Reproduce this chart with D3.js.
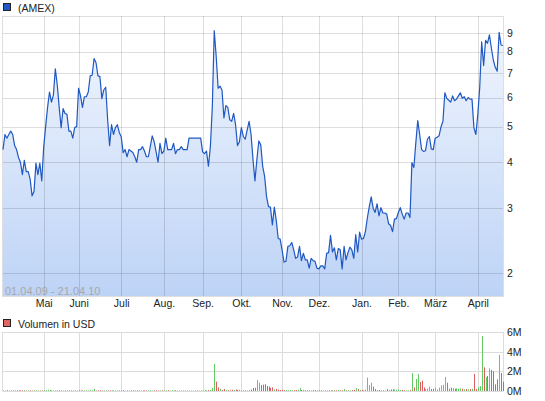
<!DOCTYPE html>
<html><head><meta charset="utf-8">
<script src="https://cdn.jsdelivr.net/npm/d3@7/dist/d3.min.js"></script>
<style>
html,body{margin:0;padding:0;background:#fff;}
svg{display:block;font-family:"Liberation Sans",Arial,sans-serif;}
</style></head>
<body>
<svg id="c" width="545" height="401"></svg>
<script>
// ---- data ----
const seriesName = "(AMEX)";
const volumeName = "Volumen in USD";
const dateRange = "01.04.09 - 21.04.10";
const prices = [
4.33,4.76,4.65,4.76,4.86,4.76,4.44,4.33,4.12,4.0,
3.70,4.05,3.77,3.77,3.60,3.24,3.33,3.98,3.70,3.98,
3.56,4.41,5.0,5.64,6.21,5.83,6.09,7.18,6.49,5.64,
4.97,5.60,5.43,5.40,4.86,4.86,4.65,4.97,5.0,6.36,
6.06,5.64,6.03,6.03,6.21,6.87,6.90,7.66,7.46,6.87,
6.84,5.96,6.29,6.40,5.22,4.44,5.06,4.76,4.97,5.06,
4.82,4.69,4.25,4.33,4.14,4.33,4.29,4.25,4.14,4.0,
4.33,4.33,4.41,4.29,4.14,4.14,4.41,4.72,4.55,4.27,
4.0,4.50,4.22,4.29,4.65,4.33,4.33,4.33,4.50,4.22,
4.33,4.33,4.41,4.33,4.33,4.33,4.65,4.65,4.65,4.65,
4.65,4.65,4.65,4.27,4.22,4.29,3.90,4.41,5.64,9.12,
7.77,6.36,6.44,6.29,5.28,5.70,5.64,5.22,5.17,5.43,
5.06,4.44,4.55,4.97,4.70,4.62,4.90,5.17,4.76,4.07,
3.56,4.07,4.57,4.46,3.90,3.66,3.22,3.03,3.02,2.70,
3.02,2.78,2.48,2.47,2.31,2.14,2.15,2.36,2.37,2.42,
2.31,2.19,2.21,2.36,2.16,2.26,2.17,2.17,2.06,2.19,
2.16,2.15,2.06,2.05,2.09,2.09,2.05,2.26,2.27,2.53,
2.28,2.34,2.17,2.33,2.31,2.05,2.36,2.17,2.27,2.35,
2.31,2.19,2.54,2.28,2.58,2.47,2.48,2.59,2.82,3.03,
3.22,3.00,2.92,3.08,2.86,3.01,2.91,2.91,2.89,2.72,
2.69,2.59,2.80,2.81,2.92,3.01,2.89,2.80,2.91,2.91,
2.83,3.99,3.87,4.51,5.19,4.76,4.33,4.28,4.30,4.62,
4.70,4.35,4.33,4.65,4.68,4.72,4.99,5.17,6.18,5.97,
5.90,5.83,6.06,5.88,5.94,6.06,6.18,5.97,6.03,5.88,
6.0,5.94,5.94,4.96,4.76,5.40,6.41,8.51,7.33,8.58,
8.43,8.89,8.17,7.59,7.25,7.08,9.02,8.34,8.31
];
// volume in millions USD
const volumes = [
0.06,0.05,0.08,0.06,0.07,0.05,0.06,0.08,0.05,0.07,
0.06,0.09,0.05,0.06,0.07,0.05,0.08,0.06,0.05,0.07,
0.06,0.08,0.09,0.13,0.12,0.06,0.05,0.07,0.06,0.08,
0.05,0.06,0.07,0.05,0.06,0.08,0.05,0.07,0.06,0.10,
0.06,0.05,0.07,0.06,0.05,0.08,0.06,0.22,0.05,0.06,
0.07,0.05,0.06,0.08,0.05,0.06,0.07,0.05,0.06,0.05,
0.07,0.06,0.08,0.05,0.06,0.05,0.07,0.06,0.05,0.08,
0.06,0.05,0.07,0.06,0.05,0.06,0.08,0.05,0.07,0.06,
0.05,0.06,0.07,0.05,0.06,0.08,0.05,0.06,0.05,0.07,
0.06,0.05,0.06,0.05,0.07,0.06,0.05,0.06,0.05,0.06,
0.07,0.05,0.06,0.05,0.06,0.08,0.10,0.12,0.30,2.75,
0.95,0.37,0.23,0.10,0.20,0.10,0.08,0.07,0.12,0.10,
0.14,0.12,0.13,0.08,0.06,0.07,0.06,0.10,0.15,0.30,
0.33,1.12,0.85,0.60,0.65,0.70,0.50,0.45,0.33,0.37,
0.15,0.20,0.15,0.10,0.12,0.08,0.10,0.08,0.09,0.07,
0.08,0.10,0.12,0.30,0.10,0.12,0.08,0.10,0.07,0.06,
0.09,0.08,0.06,0.07,0.10,0.05,0.06,0.07,0.09,0.08,
0.06,0.10,0.07,0.08,0.06,0.07,0.20,0.07,0.08,0.06,
0.09,0.10,0.30,0.20,0.12,0.10,0.08,0.15,1.36,0.60,
0.85,0.44,0.20,0.10,0.10,0.08,0.07,0.05,0.20,0.08,
0.15,0.17,0.15,0.12,0.14,0.10,0.12,0.08,0.06,0.07,
0.10,1.83,0.37,1.22,1.73,0.92,1.05,0.37,0.20,0.25,
0.44,0.20,0.22,0.33,0.15,0.35,0.58,0.63,1.42,0.85,
0.23,0.33,0.30,0.23,0.27,0.23,0.27,0.23,0.17,0.20,
0.17,0.20,0.23,1.73,0.20,0.37,0.50,5.60,2.40,1.42,
1.53,2.30,2.14,2.00,0.68,1.19,3.66,1.83,0.95
];
const monthLabels = ["Mai","Juni","Juli","Aug.","Sep.","Okt.","Nov.","Dez.","Jan.","Feb.","März","April"];
const monthIndex = [21,39,61,83,103,123,144,163,185,204,223,245];
const priceTicks = [2,3,4,5,6,7,8,9];
const volumeTicks = [0,2,4,6];

// ---- layout ----
const svg = d3.select("#c");
const L = 3, R = 503;
const pTop = 16, pBot = 296;
const vTop = 332, vBot = 391;
const FS = "10.5px";

const x = d3.scaleLinear().domain([0, prices.length - 1]).range([L, R]);
const y = d3.scaleLog().domain([1.73, 10]).range([pBot, pTop]);
const yv = d3.scaleLinear().domain([0, 6]).range([vBot, vTop]);

// gradient
const defs = svg.append("defs");
const grad = defs.append("linearGradient").attr("id","fillGrad")
  .attr("gradientUnits","userSpaceOnUse").attr("x1",0).attr("x2",0).attr("y1",pTop).attr("y2",pBot);
grad.append("stop").attr("offset","0%").attr("stop-color","#f3f7fe");
grad.append("stop").attr("offset","100%").attr("stop-color","#bdd3f6");

// ---- price panel ----
const gP = svg.append("g");
gP.append("path")
  .datum(prices)
  .attr("fill","url(#fillGrad)")
  .attr("d", d3.area().x((d,i)=>x(i)).y0(pBot).y1(d=>y(d)));

// grid (on top of fill, translucent)
const gridCol = "rgba(0,0,0,0.13)";
gP.append("g").selectAll("line").data(priceTicks).join("line")
  .attr("x1",L).attr("x2",R)
  .attr("y1",d=>Math.round(y(d))+0.5).attr("y2",d=>Math.round(y(d))+0.5)
  .attr("stroke",gridCol);
gP.append("g").selectAll("line").data(monthIndex).join("line")
  .attr("x1",d=>Math.round(x(d))+0.5).attr("x2",d=>Math.round(x(d))+0.5)
  .attr("y1",pTop).attr("y2",pBot)
  .attr("stroke",gridCol);
gP.append("rect").attr("x",L-0.5).attr("y",pTop+0.5).attr("width",R-L+1).attr("height",pBot-pTop)
  .attr("fill","none").attr("stroke",gridCol);

gP.append("path")
  .datum(prices)
  .attr("fill","none").attr("stroke","#1f58c2").attr("stroke-width",1.2)
  .attr("stroke-linejoin","round")
  .attr("d", d3.line().x((d,i)=>x(i)).y(d=>y(d)));

gP.append("text").attr("x",5).attr("y",294.5)
  .attr("font-size","11px").attr("fill","#a8a8a8").text(dateRange);

// y axis (price)
const ay = d3.axisRight(y).tickValues(priceTicks).tickFormat(d3.format("d")).tickSize(0).tickPadding(4);
const gAy = svg.append("g").attr("transform",`translate(${R},0)`).call(ay);
gAy.select(".domain").remove();
gAy.selectAll("text").attr("font-size",FS).attr("fill","#222").attr("font-family","Liberation Sans, Arial, sans-serif");

// x axis (months)
const ax = d3.axisBottom(x).tickValues(monthIndex).tickFormat((d,i)=>monthLabels[i]).tickSize(0).tickPadding(3.5);
const gAx = svg.append("g").attr("transform",`translate(0,${pBot})`).call(ax);
gAx.select(".domain").remove();
gAx.selectAll("text").attr("font-size",FS).attr("fill","#222").attr("font-family","Liberation Sans, Arial, sans-serif");

// legend 1
svg.append("rect").attr("x",3.5).attr("y",3.5).attr("width",7).attr("height",7)
  .attr("fill","#1f58c8").attr("stroke","#222").attr("stroke-width",1);
svg.append("text").attr("x",18).attr("y",11.5).attr("font-size",FS).attr("fill","#222").text(seriesName);

// ---- volume panel ----
svg.append("rect").attr("x",3.5).attr("y",319.5).attr("width",7).attr("height",7)
  .attr("fill","#e06666").attr("stroke","#222").attr("stroke-width",1);
svg.append("text").attr("x",18).attr("y",327.5).attr("font-size",FS).attr("fill","#222").text(volumeName);

const gV = svg.append("g");
const vGrid = "#dcdcdc";
gV.append("g").selectAll("line").data(volumeTicks).join("line")
  .attr("x1",L).attr("x2",R)
  .attr("y1",d=>Math.round(yv(d))+0.5).attr("y2",d=>Math.round(yv(d))+0.5)
  .attr("stroke",vGrid);
gV.append("g").selectAll("line").data(monthIndex).join("line")
  .attr("x1",d=>Math.round(x(d))+0.5).attr("x2",d=>Math.round(x(d))+0.5)
  .attr("y1",vTop).attr("y2",vBot)
  .attr("stroke",vGrid);
gV.append("line").attr("x1",L-0.5).attr("x2",L-0.5).attr("y1",vTop).attr("y2",vBot+0.5).attr("stroke",vGrid);
gV.append("line").attr("x1",R+0.5).attr("x2",R+0.5).attr("y1",vTop).attr("y2",vBot+0.5).attr("stroke",vGrid);

gV.append("g").selectAll("rect").data(volumes).join("rect")
  .attr("x",(d,i)=>Math.round(x(i)))
  .attr("width",1)
  .attr("y",d=>yv(d))
  .attr("height",d=>Math.max(0, vBot - yv(d)))
  .attr("fill",(d,i)=> (i===0 || prices[i] >= prices[i-1]) ? "#62cc62" : "#dc5e5e");

const ayv = d3.axisRight(yv).tickValues(volumeTicks).tickFormat(d=>d+"M").tickSize(0).tickPadding(4);
const gAyv = svg.append("g").attr("transform",`translate(${R},0)`).call(ayv);
gAyv.select(".domain").remove();
gAyv.selectAll("text").attr("font-size",FS).attr("fill","#222").attr("font-family","Liberation Sans, Arial, sans-serif");
</script>
</body></html>
